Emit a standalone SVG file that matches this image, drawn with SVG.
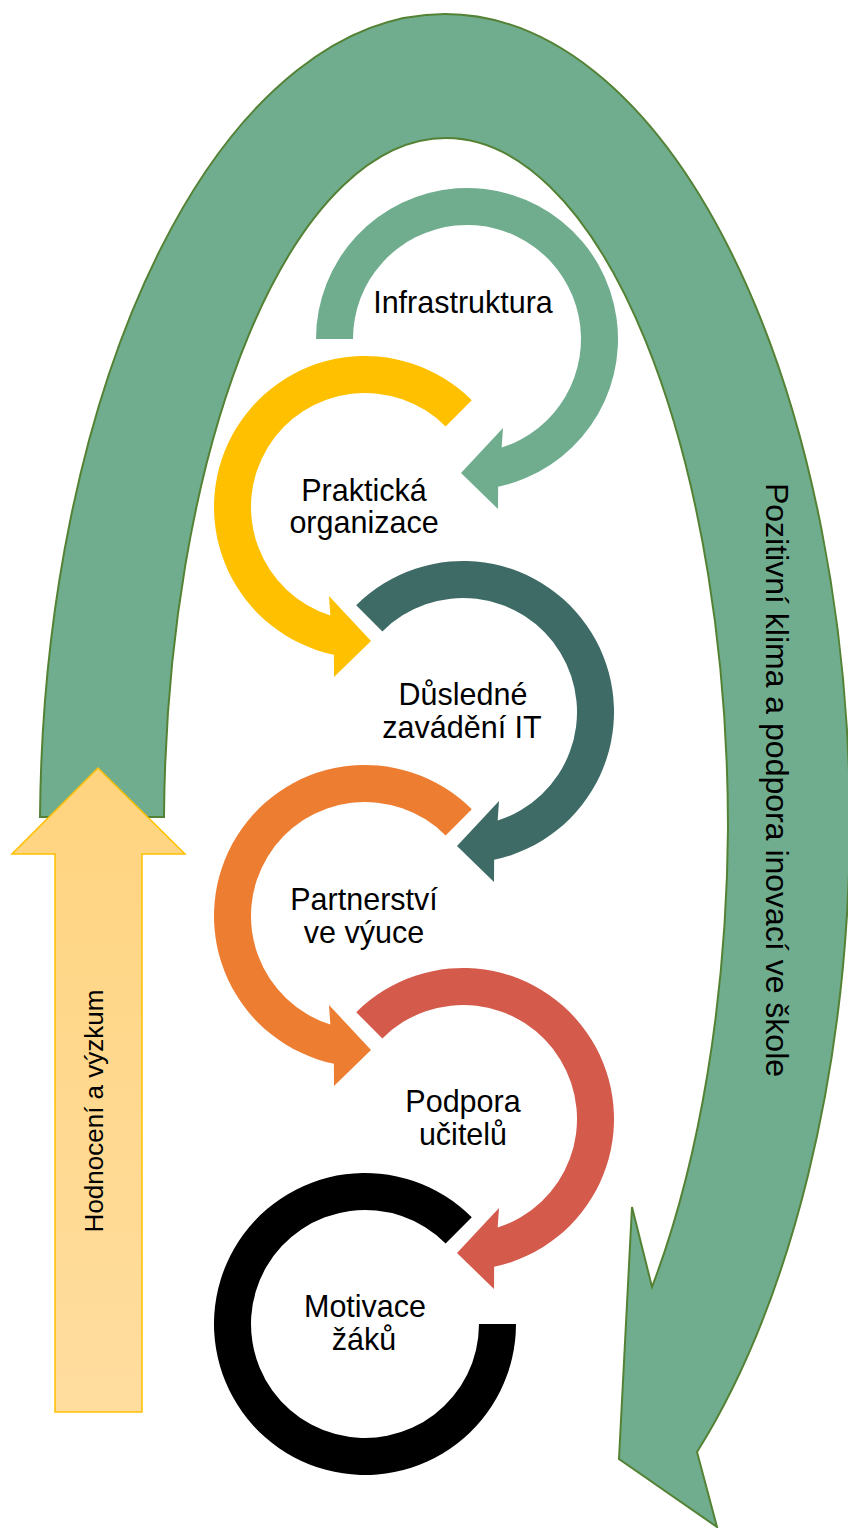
<svg xmlns="http://www.w3.org/2000/svg" xmlns:xlink="http://www.w3.org/1999/xlink" width="848" height="1528" viewBox="0 0 848 1528">
<style>
.lbl{font-family:"Liberation Sans",Arial,sans-serif;font-size:30.5px;fill:#000;text-anchor:middle}
.side{font-family:"Liberation Sans",Arial,sans-serif;fill:#000;text-anchor:middle}
.big{fill:#70AD8E;stroke:#548235;stroke-width:2;stroke-linejoin:miter}
.eval{fill:url(#yg);stroke:#FFC000;stroke-width:1.5}
</style>
<defs>
<linearGradient id="yg" x1="0" y1="0" x2="0" y2="1">
<stop offset="0" stop-color="#FFD47F"/>
<stop offset="1" stop-color="#FFDD9F"/>
</linearGradient>
<path id="ca225" d="M -106.77,-106.77 A 151 151 0 1 1 31.13,147.76 L 31,170 L -6,134 L 36,89 L 34.66,108.6 A 114 114 0 1 0 -80.61,-80.61 Z"/>
<path id="ca180" d="M -151,0 A 151 151 0 1 1 31.13,147.76 L 31,170 L -6,134 L 36,89 L 34.66,108.6 A 114 114 0 1 0 -114,0 Z"/>
<path id="ring" d="M -106.77,-106.77 A 151 151 0 1 1 -151,0 L -114,0 A 114 114 0 1 0 -80.61,-80.61 Z"/>
</defs>
<g id="connectors">
<g id="cycle-arrow">
<path class="big" d="M 40,817 A 405 816 0 0 1 445,14 A 405 816 0 0 1 850,830 A 405 816 0 0 1 697,1452 L 717,1527 L 619,1459 L 632,1207 L 652,1287 A 282 691 0 0 0 728,829 A 282 691 0 0 0 446,138 A 282 691 0 0 0 164,817 Z"/>
<text class="side" font-size="32" transform="translate(766,780) rotate(90)">Pozitivní klima a podpora inovací ve škole</text>
</g>
</g>
<g id="n-infrastruktura">
<use xlink:href="#ca180" href="#ca180" transform="translate(467,339)" fill="#70AD8E"/>
<text class="lbl" x="463" y="313">Infrastruktura</text>
</g>
<g id="n-prakticka">
<use xlink:href="#ca225" href="#ca225" transform="translate(365,507) scale(-1,1)" fill="#FFC000"/>
<text class="lbl" x="364" y="501">Praktická</text>
<text class="lbl" x="364" y="533">organizace</text>
</g>
<g id="n-dusledne">
<use xlink:href="#ca225" href="#ca225" transform="translate(463,712)" fill="#3E6B66"/>
<text class="lbl" x="463" y="705">Důsledné</text>
<text class="lbl" x="462" y="738">zavádění IT</text>
</g>
<g id="n-partnerstvi">
<use xlink:href="#ca225" href="#ca225" transform="translate(365,916) scale(-1,1)" fill="#ED7D31"/>
<text class="lbl" x="364" y="910">Partnerství</text>
<text class="lbl" x="364" y="943">ve výuce</text>
</g>
<g id="n-podpora">
<use xlink:href="#ca225" href="#ca225" transform="translate(463,1119)" fill="#D45A4C"/>
<text class="lbl" x="463" y="1112">Podpora</text>
<text class="lbl" x="463" y="1145">učitelů</text>
</g>
<g id="n-motivace">
<use xlink:href="#ring" href="#ring" transform="translate(365,1324) scale(-1,1)" fill="#000000"/>
<text class="lbl" x="365" y="1317">Motivace</text>
<text class="lbl" x="364" y="1350">žáků</text>
</g>
<g id="eval-arrow">
<path class="eval" d="M 98,768 L 185,854 L 142,854 L 142,1412 L 55,1412 L 55,854 L 12,854 Z"/>
<text class="side" font-size="26" transform="translate(103,1111) rotate(-90)">Hodnocení a výzkum</text>
</g>
</svg>
